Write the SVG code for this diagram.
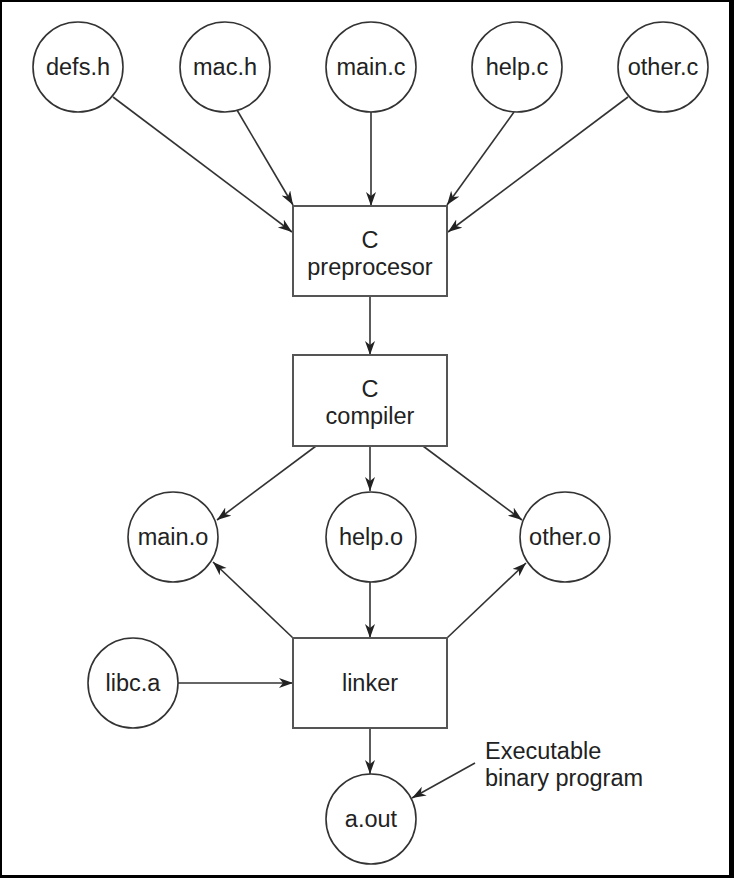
<svg xmlns="http://www.w3.org/2000/svg" width="734" height="878" viewBox="0 0 734 878">
<style>
.n circle{fill:#fff;stroke:#333;stroke-width:1.6}
.n rect{fill:#fff;stroke:#555;stroke-width:2}
.n text, text.lbl{font-family:"Liberation Sans",Arial,sans-serif;font-size:23.5px;fill:#222;text-anchor:middle}
text.lbl{text-anchor:start}
#edges line{stroke:#333;stroke-width:1.6;marker-end:url(#ah)}
</style>
<defs>
<marker id="ah" markerUnits="userSpaceOnUse" markerWidth="16" markerHeight="12" refX="14" refY="5" orient="auto">
<path d="M0,0 L14,5 L0,10 L4,5 z" fill="#222"/>
</marker>
</defs>
<rect x="0" y="0" width="734" height="878" fill="#000"/>
<rect x="2" y="2" width="727" height="873" fill="#fff"/>
<g id="edges">
<line x1="113" y1="97" x2="292" y2="232"/>
<line x1="237" y1="110" x2="293" y2="205"/>
<line x1="371" y1="112" x2="371" y2="206"/>
<line x1="514" y1="112" x2="447" y2="205"/>
<line x1="628" y1="97" x2="448" y2="232"/>
<line x1="370" y1="296" x2="370" y2="355"/>
<line x1="316" y1="446" x2="217" y2="520"/>
<line x1="370" y1="446" x2="370" y2="491"/>
<line x1="423" y1="446" x2="522" y2="520"/>
<line x1="293" y1="638" x2="213" y2="562"/>
<line x1="370" y1="582" x2="370" y2="638"/>
<line x1="447" y1="638" x2="526" y2="563"/>
<line x1="178" y1="683" x2="293" y2="683"/>
<line x1="370" y1="728" x2="370" y2="774"/>
<line x1="475" y1="763" x2="412" y2="798"/>
</g>
<g id="defs_h" class="n"><circle cx="78" cy="67" r="45"/><text x="78" y="75">defs.h</text></g>
<g id="mac_h" class="n"><circle cx="225" cy="67" r="45"/><text x="225" y="75">mac.h</text></g>
<g id="main_c" class="n"><circle cx="371" cy="67" r="45"/><text x="371" y="75">main.c</text></g>
<g id="help_c" class="n"><circle cx="517" cy="67" r="45"/><text x="517" y="75">help.c</text></g>
<g id="other_c" class="n"><circle cx="663" cy="67" r="45"/><text x="663" y="75">other.c</text></g>
<g id="preproc" class="n"><rect x="293" y="206" width="154" height="90"/><text x="370" y="248">C</text><text x="370" y="275">preprocesor</text></g>
<g id="compiler" class="n"><rect x="293" y="355" width="154" height="91"/><text x="370" y="397">C</text><text x="370" y="424">compiler</text></g>
<g id="main_o" class="n"><circle cx="173" cy="537" r="45"/><text x="173" y="545">main.o</text></g>
<g id="help_o" class="n"><circle cx="371" cy="537" r="45"/><text x="371" y="545">help.o</text></g>
<g id="other_o" class="n"><circle cx="565" cy="537" r="45"/><text x="565" y="545">other.o</text></g>
<g id="libc_a" class="n"><circle cx="133" cy="683" r="45"/><text x="133" y="691">libc.a</text></g>
<g id="linker" class="n"><rect x="293" y="638" width="154" height="90"/><text x="370" y="691">linker</text></g>
<g id="a_out" class="n"><circle cx="371" cy="819" r="45"/><text x="371" y="827">a.out</text></g>
<g id="note"><text class="lbl" x="485" y="759">Executable</text><text class="lbl" x="485" y="786">binary program</text></g>
</svg>
